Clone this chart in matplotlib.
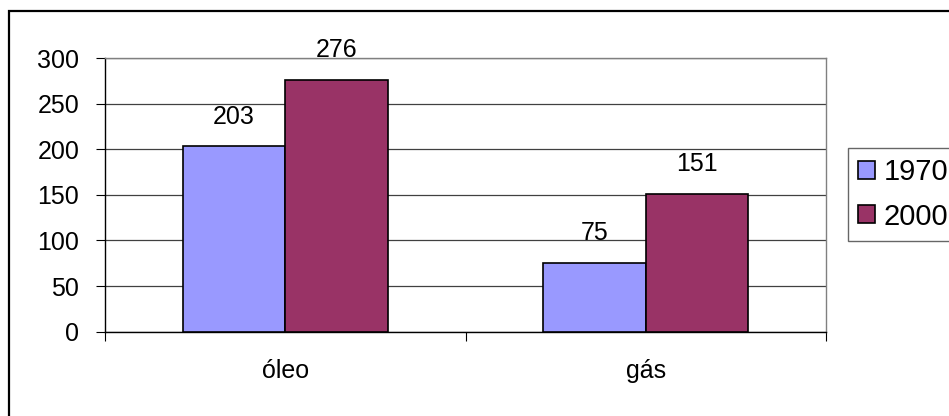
import numpy as np
import matplotlib
matplotlib.use('Agg')
import matplotlib.pyplot as plt
from matplotlib.patches import Rectangle

plt.rcParams['font.family'] = ['Liberation Sans', 'DejaVu Sans']

# data
categories = ['óleo', 'gás']
series_names = ['1970', '2000']
values_1970 = [203, 75]
values_2000 = [276, 151]
y_ticks = [0, 50, 100, 150, 200, 250, 300]

COLOR_1970 = '#9999FF'
COLOR_2000 = '#993366'
FS = 18
FS_LEG = 21

fig = plt.figure(figsize=(9.49, 4.16), dpi=100)
ax = fig.add_axes([105 / 949, 84.3 / 416, 721 / 949, 273.7 / 416])

centers = np.arange(len(categories)) + 0.5
width = 0.285

bars_a = ax.bar(centers - width / 2, values_1970, width, color=COLOR_1970,
                edgecolor='black', linewidth=1.2, label=series_names[0], zorder=3)
bars_b = ax.bar(centers + width / 2, values_2000, width, color=COLOR_2000,
                edgecolor='black', linewidth=1.2, label=series_names[1], zorder=3)

for bars, vals in [(bars_a, values_1970), (bars_b, values_2000)]:
    for b, v in zip(bars, vals):
        ax.annotate(str(v), (b.get_x() + b.get_width() / 2, v),
                    xytext=(0, 16.5), textcoords='offset points',
                    ha='center', va='baseline', fontsize=FS, zorder=4)

ax.set_xlim(0, len(categories))
ax.set_ylim(0, 300)
ax.set_yticks(y_ticks)
ax.set_yticklabels([str(t) for t in y_ticks], fontsize=FS)
ax.tick_params(axis='y', direction='out', length=6.5, width=0.8, pad=12)

# category boundaries get the ticks, names sit in between
ax.set_xticks(np.arange(len(categories) + 1))
ax.set_xticklabels([])
ax.set_xticks(centers, minor=True)
ax.set_xticklabels(categories, minor=True, fontsize=FS)
ax.tick_params(axis='x', which='major', direction='out', length=6.5, width=0.8)
ax.tick_params(axis='x', which='minor', length=0, pad=20)

ax.yaxis.grid(True, color='#404040', linewidth=0.9, zorder=0)
ax.set_axisbelow(True)
for side in ['top', 'right']:
    ax.spines[side].set_color('#808080')
    ax.spines[side].set_linewidth(1.0)
for side in ['left', 'bottom']:
    ax.spines[side].set_color('black')
    ax.spines[side].set_linewidth(1.0)

leg = ax.legend(loc='upper left', bbox_to_anchor=(848 / 949, 1 - 148 / 416),
                bbox_transform=fig.transFigure, fontsize=FS_LEG, frameon=True,
                fancybox=False, shadow=False, borderpad=0.35, labelspacing=0.56,
                handlelength=0.58, handleheight=0.58, handletextpad=0.29,
                borderaxespad=0)
leg.get_frame().set_edgecolor('#404040')
leg.get_frame().set_linewidth(1.0)
for h in leg.legend_handles:
    h.set_linewidth(1.2)

# chart area border
fig.add_artist(Rectangle((9 / 949, -0.5), 2, (416 - 11) / 416 + 0.5,
                         transform=fig.transFigure, fill=False,
                         edgecolor='black', linewidth=1.6))

fig.savefig('out.png', dpi=100)
